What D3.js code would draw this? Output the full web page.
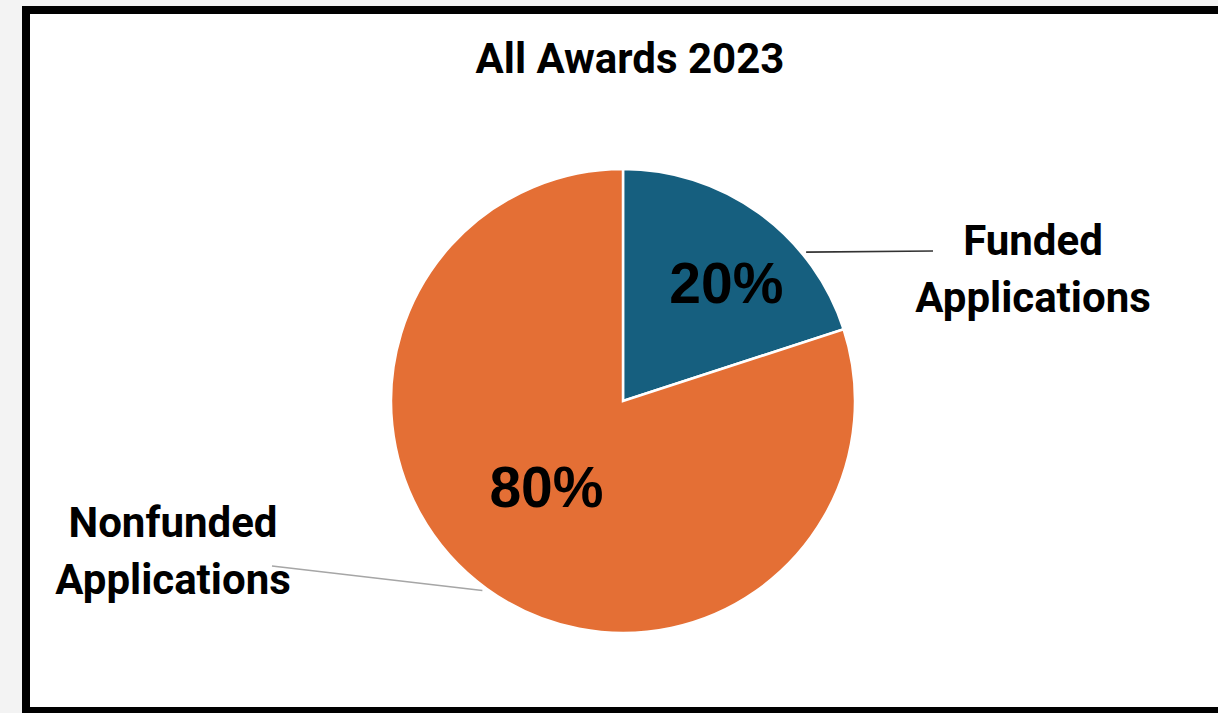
<!DOCTYPE html>
<html>
<head>
<meta charset="utf-8">
<script src="https://cdn.jsdelivr.net/npm/d3@7"></script>
<style>
  html, body { margin: 0; padding: 0; background: #f3f3f3; }
  svg { display: block; }
</style>
</head>
<body>
<script>
// chart data
const categories = ["Funded Applications", "Nonfunded Applications"];
const labelLines = [["Funded", "Applications"], ["Nonfunded", "Applications"]];
const values = [20, 80];
const sliceColors = ["#165f7f", "#e46f35"];
const title = "All Awards 2023";

const w = 1218, h = 713;
const cx = 623, cy = 401, r = 232;

// layout of labels (per slice): angle offset of leader, percent label radius / angle shift
const pctRadius = [157, 115];
const pctShift = [0.09, 0.10];
const leaderShift = [0.26, 0.01];
const nameX = [1033, 173];
const nameY = [255, 537];
const lineEnd = [[933, 251], [272, 566]];

const svg = d3.select("body").append("svg")
    .attr("width", w)
    .attr("height", h);

// frame
svg.append("rect")
    .attr("x", 26).attr("y", 10)
    .attr("width", 1200).attr("height", 701)
    .attr("fill", "#fff")
    .attr("stroke", "#000")
    .attr("stroke-width", 8);

svg.append("text")
    .attr("x", 630).attr("y", 73)
    .attr("text-anchor", "middle")
    .attr("font-family", "Roboto, sans-serif")
    .attr("font-weight", "bold")
    .attr("font-size", "42px")
    .attr("fill", "#000")
    .text(title);

const pie = d3.pie().sort(null).value(d => d);
const arcs = pie(values);
const arc = d3.arc().innerRadius(0).outerRadius(r);

const g = svg.append("g").attr("transform", `translate(${cx},${cy})`);

g.selectAll("path.slice")
    .data(arcs)
    .enter().append("path")
    .attr("class", "slice")
    .attr("d", arc)
    .attr("fill", (d, i) => sliceColors[i])
    .attr("stroke", "#fff")
    .attr("stroke-width", 2.5);

// percent labels
g.selectAll("text.pct")
    .data(arcs)
    .enter().append("text")
    .attr("class", "pct")
    .attr("x", (d, i) => pctRadius[i] * Math.sin((d.startAngle + d.endAngle) / 2 + pctShift[i]))
    .attr("y", (d, i) => -pctRadius[i] * Math.cos((d.startAngle + d.endAngle) / 2 + pctShift[i]))
    .attr("dy", "0.36em")
    .attr("text-anchor", "middle")
    .attr("font-family", "Liberation Sans, Arial, sans-serif")
    .attr("font-weight", "bold")
    .attr("font-size", "57px")
    .attr("fill", "#000")
    .text(d => d.value + "%");

// leader lines
const leaderColors = ["#333", "#a6a6a6"];
svg.selectAll("line.leader")
    .data(arcs)
    .enter().append("line")
    .attr("class", "leader")
    .attr("x1", (d, i) => cx + (r + 4) * Math.sin((d.startAngle + d.endAngle) / 2 + leaderShift[i]))
    .attr("y1", (d, i) => cy - (r + 4) * Math.cos((d.startAngle + d.endAngle) / 2 + leaderShift[i]))
    .attr("x2", (d, i) => lineEnd[i][0])
    .attr("y2", (d, i) => lineEnd[i][1])
    .attr("stroke", (d, i) => leaderColors[i])
    .attr("stroke-width", 1.6);

// category labels
categories.forEach(function (c, i) {
    const t = svg.append("text")
        .attr("text-anchor", "middle")
        .attr("font-family", "Roboto, sans-serif")
        .attr("font-weight", "bold")
        .attr("font-size", "42px")
        .attr("fill", "#000");
    labelLines[i].forEach(function (line, k) {
        t.append("tspan")
            .attr("x", nameX[i])
            .attr("y", nameY[i] + k * 57)
            .text(line);
    });
});
</script>
</body>
</html>
